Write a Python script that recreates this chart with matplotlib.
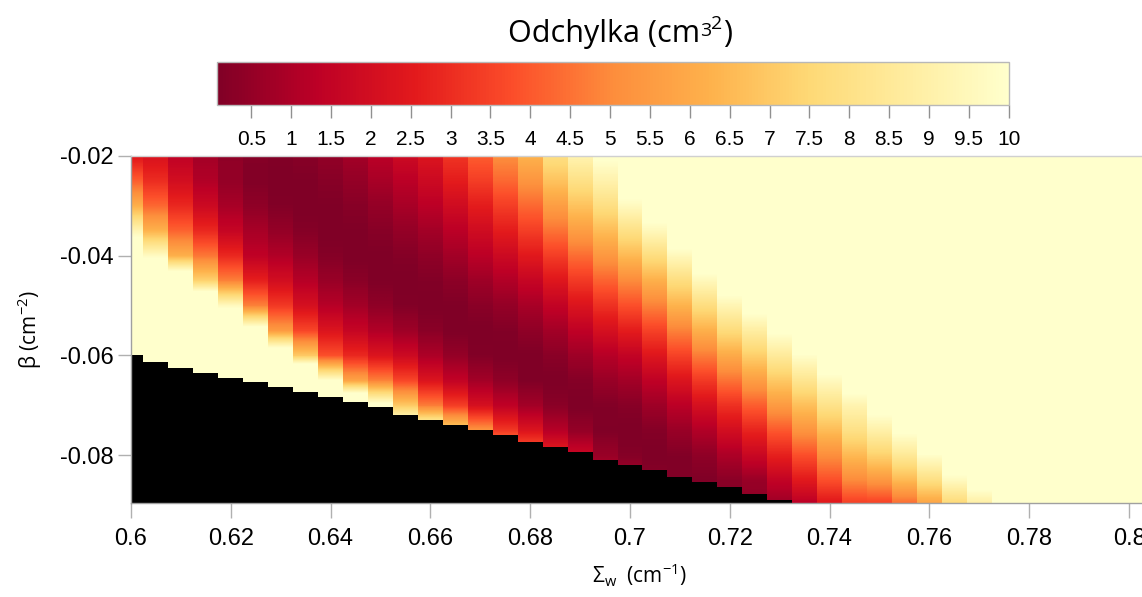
import numpy as np
import matplotlib
matplotlib.use("Agg")
import matplotlib.pyplot as plt
from matplotlib.colors import Normalize
from matplotlib.cm import ScalarMappable

nan = float("nan")

# Column positions (Sigma_w, cm^-1) and row levels (beta, cm^-2)
sigma_w = [round(0.600 + 0.005 * i, 3) for i in range(41)]
beta = [-0.020, -0.025, -0.030, -0.035, -0.040, -0.045, -0.050, -0.055,
        -0.060, -0.065, -0.070, -0.075, -0.080, -0.085, -0.090]

# Deviation per column, top (beta=-0.02) to bottom (beta=-0.09); values >10 saturate
deviation = [
    [2.4, 4.1, 6.2, 9.3, 12, 14, 15, 15, 15, nan, nan, nan, nan, nan, nan],
    [2.2, 3.0, 4.3, 6.3, 9.7, 12.5, 15, 15, 15, 15, nan, nan, nan, nan, nan],
    [1.4, 2.0, 2.9, 4.2, 6.2, 12.3, 15, 15, 15, 15, nan, nan, nan, nan, nan],
    [0.8, 1.1, 1.8, 2.9, 4.6, 7.3, 13.5, 15, 15, 15, nan, nan, nan, nan, nan],
    [0.4, 0.5, 0.9, 1.6, 2.9, 4.8, 9.6, 13, 15, 15, nan, nan, nan, nan, nan],
    [0.2, 0.15, 0.4, 0.9, 1.4, 2.7, 4.8, 10.9, 14, 15, 15, nan, nan, nan, nan],
    [0.15, 0.05, 0.15, 0.5, 1.1, 2.0, 3.3, 5.5, 12, 15, 15, nan, nan, nan, nan],
    [0.25, 0.1, 0.05, 0.2, 0.6, 1.2, 2.1, 3.6, 7.0, 16, 16, nan, nan, nan, nan],
    [0.45, 0.25, 0.1, 0.05, 0.2, 0.6, 1.2, 2.3, 3.8, 10.0, 16, nan, nan, nan, nan],
    [0.8, 0.5, 0.25, 0.1, 0.05, 0.3, 0.8, 1.6, 2.9, 5.8, 14, nan, nan, nan, nan],
    [1.3, 0.9, 0.5, 0.25, 0.08, 0.1, 0.4, 1.1, 2.3, 4.8, 10.5, 15, nan, nan, nan],
    [1.8, 1.3, 0.9, 0.5, 0.2, 0.05, 0.15, 0.7, 1.8, 3.6, 7.0, 12, nan, nan, nan],
    [2.3, 1.8, 1.3, 0.8, 0.4, 0.15, 0.05, 0.3, 1.0, 2.3, 4.7, 10.5, nan, nan, nan],
    [3.2, 2.6, 1.9, 1.3, 0.8, 0.35, 0.1, 0.08, 0.5, 1.5, 3.4, 7.5, nan, nan, nan],
    [4.1, 3.4, 2.6, 1.9, 1.3, 0.7, 0.3, 0.05, 0.15, 0.8, 2.1, 5.3, nan, nan, nan],
    [5.1, 4.3, 3.4, 2.6, 1.8, 1.1, 0.5, 0.15, 0.05, 0.4, 1.4, 3.3, 6.0, nan, nan],
    [6.3, 5.3, 4.3, 3.4, 2.5, 1.6, 0.9, 0.4, 0.08, 0.1, 0.8, 2.3, 4.5, nan, nan],
    [7.9, 6.8, 5.6, 4.5, 3.4, 2.4, 1.5, 0.8, 0.3, 0.05, 0.3, 1.2, 2.9, nan, nan],
    [9.2, 8.0, 6.8, 5.6, 4.4, 3.3, 2.3, 1.4, 0.7, 0.2, 0.05, 0.5, 1.8, nan, nan],
    [10.2, 9.1, 7.9, 6.6, 5.4, 4.2, 3.1, 2.1, 1.2, 0.6, 0.15, 0.1, 0.6, 1.5, nan],
    [12, 11, 9.6, 8.0, 6.5, 5.0, 3.8, 2.6, 1.5, 0.8, 0.25, 0.05, 0.2, 0.8, nan],
    [14, 12.5, 11, 9.5, 7.8, 6.2, 4.8, 3.5, 2.4, 1.4, 0.7, 0.2, 0.05, 0.3, nan],
    [15, 14.5, 13, 11.3, 9.5, 7.8, 6.3, 4.8, 3.5, 2.3, 1.3, 0.6, 0.15, 0.1, nan],
    [15, 15, 15, 13.5, 11.3, 9.5, 7.8, 6.2, 4.7, 3.3, 2.1, 1.1, 0.4, 0.1, 0.3],
    [15, 15, 15, 15, 13, 11.0, 9.3, 7.7, 6.0, 4.5, 3.1, 2.0, 1.0, 0.3, 0.1],
    [15, 15, 15, 15, 15, 12.8, 10.6, 8.8, 7.2, 5.6, 4.1, 2.8, 1.7, 0.6, 0.3],
    [15, 15, 15, 15, 15, 15, 12.5, 10.2, 8.6, 7.0, 5.5, 4.0, 2.7, 1.5, 0.6],
    [15, 15, 15, 15, 15, 15, 15, 12, 9.9, 8.3, 6.7, 5.3, 3.8, 2.5, 1.2],
    [15, 15, 15, 15, 15, 15, 15, 15, 11.2, 9.6, 8.1, 6.6, 5.1, 3.8, 2.3],
    [15, 15, 15, 15, 15, 15, 15, 15, 13, 10.9, 9.2, 8.0, 6.5, 5.0, 3.3],
    [15, 15, 15, 15, 15, 15, 15, 15, 15, 13, 10.6, 9.0, 7.3, 5.4, 3.3],
    [15, 15, 15, 15, 15, 15, 15, 15, 15, 15, 12.5, 10.2, 8.5, 6.5, 4.2],
    [15, 15, 15, 15, 15, 15, 15, 15, 15, 15, 15, 12, 9.9, 7.9, 5.6],
    [15, 15, 15, 15, 15, 15, 15, 15, 15, 15, 15, 15, 11.5, 9.6, 7.4],
    [15, 15, 15, 15, 15, 15, 15, 15, 15, 15, 15, 15, 15, 10.8, 8.7],
    [15, 15, 15, 15, 15, 15, 15, 15, 15, 15, 15, 15, 15, 15, 11.0],
    [15] * 15,
    [15] * 15,
    [15] * 15,
    [15] * 15,
    [15] * 15,
]

# Lower limit of the valid region per column (below it: no solution, drawn black)
beta_floor = [-0.0600, -0.0614, -0.0625, -0.0635, -0.0645, -0.0654, -0.0664,
              -0.0674, -0.0684, -0.0694, -0.0704, -0.0720, -0.0730, -0.0739,
              -0.0749, -0.0759, -0.0774, -0.0784, -0.0794, -0.0809, -0.0819,
              -0.0829, -0.0844, -0.0854, -0.0864, -0.0879, -0.0890]

cbar_ticks = [0.5 * i for i in range(1, 21)]

plt.rcParams["axes.unicode_minus"] = False
TICK_FONT = "Liberation Sans"
LABEL_FONT = "Open Sans"

W, H = 1142, 597
fig = plt.figure(figsize=(W / 100, H / 100), dpi=100)
ax = fig.add_axes([131 / W, 1 - 502.7 / H, 1 - 131 / W, (502.7 - 156) / H])

cmap = plt.get_cmap("YlOrRd_r")
norm = Normalize(vmin=0.07, vmax=10)

dx = 0.005
dy = abs(beta[1] - beta[0])
for x, col in zip(sigma_w, deviation):
    vals = np.array(col, dtype=float)
    # hold the last valid value through the masked part of the column
    for i in range(1, len(vals)):
        if np.isnan(vals[i]):
            vals[i] = vals[i - 1]
    ax.imshow(vals[:, None], cmap=cmap, norm=norm, origin="upper",
              extent=[x - dx / 2, x + dx / 2, beta[-1] - dy / 2, beta[0] + dy / 2],
              interpolation="bilinear", interpolation_stage="data", aspect="auto")

floor_x = sigma_w[:len(beta_floor)]
base = -0.1
ax.bar(floor_x, [b - base for b in beta_floor], bottom=base, width=dx,
       color="black", linewidth=0, align="center")

ax.set_xlim(0.6, 0.8026)
ax.set_ylim(-0.08955, -0.02)

ax.set_xticks([0.60, 0.62, 0.64, 0.66, 0.68, 0.70, 0.72, 0.74, 0.76, 0.78, 0.80])
ax.set_xticklabels(["0.6", "0.62", "0.64", "0.66", "0.68", "0.7", "0.72",
                    "0.74", "0.76", "0.78", "0.8"])
ax.set_yticks([-0.02, -0.04, -0.06, -0.08])
ax.set_yticklabels(["-0.02", "-0.04", "-0.06", "-0.08"])
for lab in ax.get_xticklabels() + ax.get_yticklabels():
    lab.set_fontfamily(TICK_FONT)
ax.tick_params(axis="x", length=11, width=1, color="#b0b0b0", pad=7,
               labelsize=17, labelcolor="black")
ax.tick_params(axis="y", length=9.5, width=1, color="#b0b0b0", pad=3,
               labelsize=17, labelcolor="black")

ax.spines["right"].set_visible(False)
ax.spines["top"].set_color("#d0d0d0")
ax.spines["left"].set_color("#a0a0a0")
ax.spines["bottom"].set_color("#a0a0a0")
for s in ax.spines.values():
    s.set_linewidth(1)
    s.set_zorder(5)

# axis labels
fig.text(30 / W, 1 - 329.5 / H, r"β (cm$^{\mathregular{-2}}$)", rotation=90,
         ha="center", va="center", fontsize=15, family=LABEL_FONT)
fig.text(640 / W, 1 - 583 / H, r"Σ$_{\mathregular{w}}$  (cm$^{\mathregular{-1}}$)",
         ha="center", va="baseline", fontsize=15, family=LABEL_FONT)

# colour bar
cax = fig.add_axes([217 / W, 1 - 105.3 / H, (1008.7 - 217) / W, 43.6 / H])
cb = fig.colorbar(ScalarMappable(norm=norm, cmap=cmap), cax=cax,
                  orientation="horizontal")
cb.set_ticks(cbar_ticks)
cb.set_ticklabels(["%g" % t for t in cbar_ticks])
cax.tick_params(axis="x", length=9.5, width=1, color="#909090", pad=8,
                labelsize=15)
for lab in cax.get_xticklabels():
    lab.set_fontfamily(TICK_FONT)
cb.outline.set_edgecolor("#b8b8b8")
cb.outline.set_linewidth(1)

# colour-bar title, assembled piece by piece: "Odchylka (cm", raised 3, higher 2, ")"
title_parts = [("Odchylka (cm", 22, 0.0), ("3", 14, 6.0), ("2", 14, 12.5), (")", 22, 0.0)]
renderer = fig.canvas.get_renderer()
pieces = []
for txt, size, rise in title_parts:
    t = fig.text(0, 0, txt, fontsize=size, family=LABEL_FONT,
                 ha="left", va="baseline")
    w = t.get_window_extent(renderer=renderer).width
    pieces.append((t, w, rise))
total = sum(p[1] for p in pieces)
x_px = 620 - total / 2
base_px = H - 41.7
for t, w, rise in pieces:
    t.set_position((x_px / W, (base_px + rise) / H))
    x_px += w

fig.savefig("out.png", dpi=100)
